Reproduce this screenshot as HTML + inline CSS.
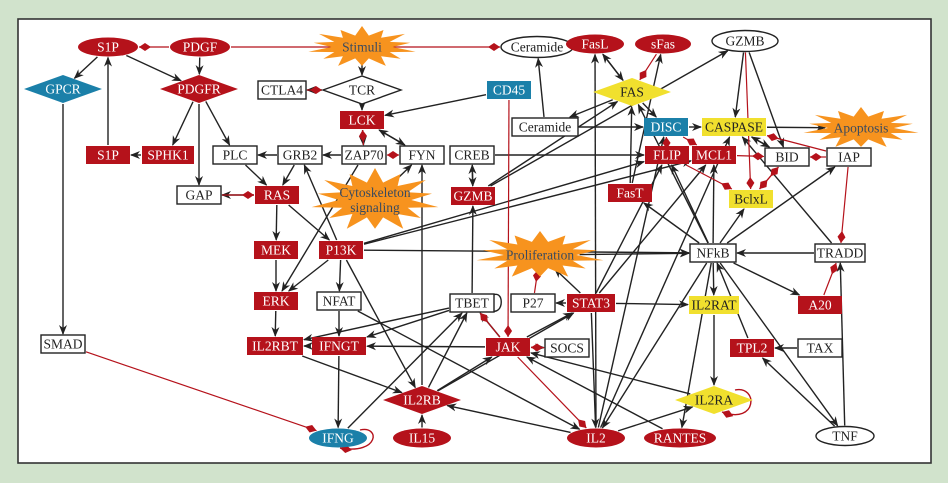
<!DOCTYPE html>
<html><head><meta charset="utf-8"><style>
body{margin:0;background:#d1e3cc;width:948px;height:483px;overflow:hidden}
svg{position:absolute;left:0;top:0}
text{font-family:"Liberation Serif",serif;font-size:13.5px;text-anchor:middle;dominant-baseline:central}
</style></head><body>
<svg id="s" width="948" height="483" xmlns="http://www.w3.org/2000/svg">
<defs>
<marker id="ar" markerWidth="10" markerHeight="10" refX="9" refY="5" orient="auto" markerUnits="userSpaceOnUse"><path d="M0,1 L10,5 L0,9 L3,5 Z" fill="#222"/></marker>
<marker id="dm" markerWidth="14" markerHeight="10" refX="13" refY="5" orient="auto" markerUnits="userSpaceOnUse"><path d="M1,5 L7,1 L13,5 L7,9 Z" fill="#b5121b"/></marker>
</defs>
<rect x="18" y="19" width="913" height="444" fill="#fff" stroke="#333" stroke-width="1.6"/>
<g id="e"></g><g id="n"></g>
</svg>
<script>
var R="#b5121b",B="#1b80a9",Y="#f1e02e",O="#f7931e",W="#fff";
var N={
S1Pe:[108,47,60,19,'e',R,'S1P'],PDGF:[200,47,60,19,'e',R,'PDGF'],Stim:[362,47,110,42,'s',O,'Stimuli'],
Cere:[537,47,72,21,'e',W,'Ceramide'],FasL:[595,44,58,19,'e',R,'FasL'],sFas:[663,44,56,19,'e',R,'sFas'],GZMBe:[745,41,66,21,'e',W,'GZMB'],
GPCR:[63,89,78,28,'d',B,'GPCR'],PDGFR:[199,89,78,28,'d',R,'PDGFR'],CTLA4:[282,90,48,18,'r',W,'CTLA4'],TCR:[362,90,78,28,'d',W,'TCR'],
CD45:[509,90,44,18,'r',B,'CD45'],FAS:[632,92,78,28,'d',Y,'FAS'],LCK:[362,120,44,18,'r',R,'LCK'],
CereR:[545,127,66,18,'r',W,'Ceramide'],DISC:[666,127,44,18,'r',B,'DISC'],CASP:[734,127,64,18,'r',Y,'CASPASE'],Apop:[861,128,118,42,'s',O,'Apoptosis'],
S1Pr:[108,155,44,18,'r',R,'S1P'],SPHK1:[168,155,52,18,'r',R,'SPHK1'],PLC:[235,155,44,18,'r',W,'PLC'],GRB2:[300,155,44,18,'r',W,'GRB2'],
ZAP70:[364,155,44,18,'r',W,'ZAP70'],FYN:[422,155,44,18,'r',W,'FYN'],CREB:[472,155,44,18,'r',W,'CREB'],
FLIP:[667,155,44,18,'r',R,'FLIP'],MCL1:[714,155,44,18,'r',R,'MCL1'],BID:[787,157,44,18,'r',W,'BID'],IAP:[849,157,44,18,'r',W,'IAP'],
GAP:[199,195,44,18,'r',W,'GAP'],RAS:[277,195,44,18,'r',R,'RAS'],Cyto:[375,200,130,64,'s',O,'Cytoskeleton|signaling'],
GZMBr:[473,196,44,18,'r',R,'GZMB'],FasT:[630,193,44,18,'r',R,'FasT'],BclxL:[751,199,44,18,'r',Y,'BclxL'],
MEK:[276,250,44,18,'r',R,'MEK'],P13K:[341,250,44,18,'r',R,'P13K'],Prol:[540,255,130,48,'s',O,'Proliferation'],
NFkB:[713,253,46,18,'r',W,'NFkB'],TRADD:[840,253,50,18,'r',W,'TRADD'],
ERK:[276,301,44,18,'r',R,'ERK'],NFAT:[339,301,44,18,'r',W,'NFAT'],TBET:[472,303,44,18,'r',W,'TBET'],P27:[533,303,44,18,'r',W,'P27'],
STAT3:[591,303,48,18,'r',R,'STAT3'],IL2RAT:[714,305,50,18,'r',Y,'IL2RAT'],A20:[820,305,44,18,'r',R,'A20'],
SMAD:[63,344,44,18,'r',W,'SMAD'],IL2RBT:[275,346,56,18,'r',R,'IL2RBT'],IFNGT:[339,346,54,18,'r',R,'IFNGT'],
JAK:[508,347,44,18,'r',R,'JAK'],SOCS:[567,348,44,18,'r',W,'SOCS'],TPL2:[752,348,44,18,'r',R,'TPL2'],TAX:[820,348,44,18,'r',W,'TAX'],
IL2RB:[422,400,78,28,'d',R,'IL2RB'],IL2RA:[714,400,78,28,'d',Y,'IL2RA'],
IFNG:[338,438,58,19,'e',B,'IFNG'],IL15:[422,438,58,19,'e',R,'IL15'],IL2:[596,438,58,19,'e',R,'IL2'],RANTES:[680,438,72,19,'e',R,'RANTES'],TNF:[845,436,58,19,'e',W,'TNF']
};
var A='a',D='d';
var E=[
['S1Pe','GPCR',A],['S1Pe','PDGFR',A],['PDGF','PDGFR',A],['S1Pr','S1Pe',A],['SPHK1','S1Pr',A],['PDGFR','SPHK1',A],['PDGFR','GAP',A],['PDGFR','PLC',A],
['GPCR','SMAD',A],['Stim','TCR',A],['TCR','CTLA4',A],['TCR','LCK',A],['LCK','ZAP70',A],['LCK','FYN',A],['FYN','LCK',A],['CD45','LCK',A],
['GRB2','PLC',A],['ZAP70','GRB2',A],['PLC','RAS',A],['GRB2','RAS',A],['RAS','GAP',A],['RAS','MEK',A],['RAS','P13K',A],['P13K','GRB2',A],
['MEK','ERK',A],['P13K','ERK',A],['ZAP70','ERK',A],['P13K','NFAT',A],['NFAT','IFNGT',A],['ERK','IL2RBT',A],['IFNGT','IL2RBT',A],['IFNGT','IFNG',A],
['P13K','NFkB',A],['P13K','IL2RB',A],['IL2RBT','IL2RB',A],['IL15','IL2RB',A],['IL2RB','JAK',A],['IL2RB','FYN',A],['IL2RB','TBET',A],['IFNG','TBET',A],
['TBET','IFNGT',A],['TBET','IL2RBT',A],['JAK','IFNGT',A],['JAK','TBET',A],['JAK','STAT3',A],['JAK','SOCS',A],['NFAT','IL2',A],['IL2','IL2RB',A],
['STAT3','P27',A],['STAT3','IL2RAT',A],['STAT3','Prol',A],['STAT3','IL2',A],['STAT3','FLIP',A],['STAT3','MCL1',A],['TBET','GZMBr',A],['CREB','GZMBr',A],
['GZMBr','CREB',A],['GZMBr','GZMBe',A],['GZMBr','FAS',A],['P13K','FLIP',A],['P13K','MCL1',A],['Cyto','FYN',A],['CREB','FLIP',A],
['CereR','Cere',A],['CereR','DISC',A],['FAS','CereR',A],['FAS','DISC',A],['FAS','FasL',A],['FasL','FAS',A],['DISC','CASP',A],['CASP','Apop',A],
['CASP','BID',A],['BID','CASP',A],['GZMBe','CASP',A],['GZMBe','BID',A],['IL2','FasL',A],['FasT','FAS',A],['FasT','sFas',A],
['NFkB','FasT',A],['NFkB','FLIP',A],['NFkB','MCL1',A],['NFkB','BclxL',A],['NFkB','IAP',A],['NFkB','FAS',A],['NFkB','IL2RAT',A],['TRADD','NFkB',A],['NFkB','A20',A],
['NFkB','IL2',A],['NFkB','RANTES',A],['TAX','TPL2',A],['TPL2','NFkB',A],['TNF','TPL2',A],['TNF','TRADD',A],['NFkB','TNF',A],['TRADD','CASP',A],
['IL2RAT','IL2RA',A],['IL2RA','JAK',A],['IL2','IL2RA',A],['RANTES','JAK',A],['IL2','DISC',A],['IL2','CASP',A],['Prol','NFkB',A],['IL2RB','STAT3',A],
['PDGF','S1Pe',D],['PDGF','Cere',D],['CTLA4','TCR',D],['ZAP70','LCK',D],['FYN','ZAP70',D],['GAP','RAS',D],['sFas','FAS',D],['CD45','JAK',D],
['P27','Prol',D],['JAK','TBET',D],['JAK','IL2',D],['SOCS','JAK',D],['GZMBe','BclxL',D],['MCL1','BID',D],['IAP','BID',D],['FLIP','BclxL',D],
['DISC','MCL1',D],['FLIP','DISC',D],['BID','BclxL',D],['BclxL','BID',D],['IAP','CASP',D],['IAP','TRADD',D],['A20','TRADD',D],['SMAD','IFNG',D]
];
var ns="http://www.w3.org/2000/svg";
function el(t,a,p){var e=document.createElementNS(ns,t);for(var k in a)e.setAttribute(k,a[k]);p.appendChild(e);return e;}
function clip(n,dx,dy){var hw=n[2]/2+1,hh=n[3]/2+1,s=n[4],t;
 if(s=='r')t=Math.min(hw/Math.abs(dx||1e-9),hh/Math.abs(dy||1e-9));
 else if(s=='e')t=1/Math.sqrt(Math.pow(dx/hw,2)+Math.pow(dy/hh,2));
 else if(s=='d')t=1/(Math.abs(dx)/hw+Math.abs(dy)/hh);
 else t=0.6/Math.sqrt(Math.pow(dx/hw,2)+Math.pow(dy/hh,2));
 return [n[0]+dx*t,n[1]+dy*t];}
var ge=document.getElementById('e'),gn=document.getElementById('n');
E.forEach(function(x){var a=N[x[0]],b=N[x[1]];var dx=b[0]-a[0],dy=b[1]-a[1];
 var p=clip(a,dx,dy),q=clip(b,-dx,-dy);
 el('line',{x1:p[0],y1:p[1],x2:q[0],y2:q[1],stroke:x[2]==A?'#222':R,'stroke-width':x[2]==A?1.4:1.2,'marker-end':'url(#'+(x[2]==A?'ar':'dm')+')'},ge);});
el('path',{d:'M490,297 C505,285 505,318 490,310',fill:'none',stroke:'#222','stroke-width':1.4},ge);
el('path',{d:'M360,430 C380,425 380,455 340,448',fill:'none',stroke:R,'stroke-width':1.4,'marker-end':'url(#dm)'},ge);
el('path',{d:'M735,390 C758,385 758,425 722,412',fill:'none',stroke:R,'stroke-width':1.4,'marker-end':'url(#dm)'},ge);
for(var k in N){var n=N[k],x=n[0],y=n[1],w=n[2],h=n[3],s=n[4],f=n[5];
 if(s=='r')el('rect',{x:x-w/2,y:y-h/2,width:w,height:h,fill:f,stroke:f==W?'#222':'none','stroke-width':1.4},gn);
 else if(s=='e')el('ellipse',{cx:x,cy:y,rx:w/2,ry:h/2,fill:f,stroke:f==W?'#222':'none','stroke-width':1.4},gn);
 else if(s=='d')el('polygon',{points:[x-w/2,y,x,y-h/2,x+w/2,y,x,y+h/2].join(','),fill:f,stroke:f==W?'#222':'none','stroke-width':1.4},gn);
 else{var pts=[],m=14;for(var i=0;i<2*m;i++){var ang=Math.PI*i/m-Math.PI/2,r=(i%2==0)?1:0.62,jit=(i%4==0)?1:0.9;
   pts.push((x+Math.cos(ang)*w/2*r*jit).toFixed(1)+','+(y+Math.sin(ang)*h/2*r*jit).toFixed(1));}
   el('polygon',{points:pts.join(' '),fill:f},gn);}
 var col=(f==R||f==B)?'#fff':(s=='s'?'#3a4a5e':'#222');
 var lines=n[6].split('|');
 lines.forEach(function(L,i){var t=el('text',{x:x,y:y+(i-(lines.length-1)/2)*15,fill:col},gn);t.textContent=L;
  if(s=='s')t.setAttribute('font-size','15');});
}
</script>
</body></html>
